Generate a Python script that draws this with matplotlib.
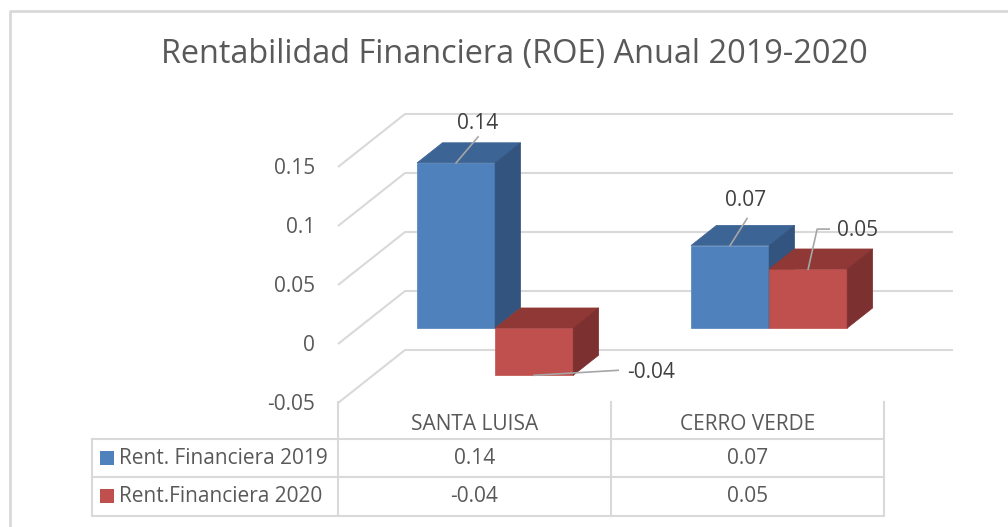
import numpy as np
import matplotlib
matplotlib.use("Agg")
import matplotlib.pyplot as plt
from matplotlib.patches import Polygon
from matplotlib.lines import Line2D

# Data
categories = ["SANTA LUISA", "CERRO VERDE"]
series_names = ["Rent. Financiera 2019", "Rent.Financiera 2020"]
roe_2019 = [0.14, 0.07]
roe_2020 = [-0.04, 0.05]
yticks = [-0.05, 0, 0.05, 0.1, 0.15]
ytick_labels = ["-0.05", "0", "0.05", "0.1", "0.15"]
title = "Rentabilidad Financiera (ROE) Anual 2019-2020"

# Styling
W, H = 1008, 527
font = "Open Sans"
txt_color = "#595959"
grid_color = "#D9D9D9"
face_colors = [("#4F81BD", "#3C6494", "#32547E"),   # front, top, side
               ("#C0504D", "#8F3836", "#7C302F")]

# layout in pixels (top-left origin)
x0_px, cat_px = 338, 274        # front plane left edge, width of one category
y0_px, unit_px = 344, 1180      # pixel row of value 0, pixels per value unit
depth_px = (67, 53)             # oblique offset of back wall
bar_w = 0.285                   # in category units
d_front, d_back = 0.30, 0.68    # bar depth (fraction of floor depth)

fig = plt.figure(figsize=(W / 100, H / 100), dpi=100)
ax = fig.add_axes([0, 0, 1, 1])
ax.set_xlim(-x0_px / cat_px, (W - x0_px) / cat_px)
ax.set_ylim((y0_px - H) / unit_px, y0_px / unit_px)
ax.axis("off")

DX = depth_px[0] / cat_px
DY = depth_px[1] / unit_px
ncat = len(categories)

# walls: front-left diagonals and back gridlines
for v, lab in zip(yticks, ytick_labels):
    ax.plot([0, DX, ncat + DX], [v, v + DY, v + DY], color=grid_color, lw=1.5,
            solid_capstyle="butt", zorder=1)
    ax.text(-23 / cat_px, v - 1.5 / unit_px, lab,
            ha="right", va="center", fontsize=15, color=txt_color, family=font)

# bars
series = [roe_2019, roe_2020]
anchors = []
for i in range(ncat):
    for s, vals in enumerate(series):
        v = vals[i]
        lo, hi = min(v, 0), max(v, 0)
        xl = i + 0.5 - bar_w + s * bar_w + d_front * DX
        yb = d_front * DY
        dd = d_back - d_front
        front, top, side = face_colors[s]
        ax.add_patch(Polygon([(xl, lo + yb), (xl + bar_w, lo + yb), (xl + bar_w, hi + yb), (xl, hi + yb)],
                             closed=True, fc=front, ec=front, lw=0.5, zorder=3))
        ax.add_patch(Polygon([(xl, hi + yb), (xl + bar_w, hi + yb),
                              (xl + bar_w + dd * DX, hi + yb + dd * DY), (xl + dd * DX, hi + yb + dd * DY)],
                             closed=True, fc=top, ec=top, lw=0.5, zorder=3))
        ax.add_patch(Polygon([(xl + bar_w, lo + yb), (xl + bar_w + dd * DX, lo + yb + dd * DY),
                              (xl + bar_w + dd * DX, hi + yb + dd * DY), (xl + bar_w, hi + yb)],
                             closed=True, fc=side, ec=side, lw=0.5, zorder=3))
        anchors.append((xl + bar_w / 2, v + yb, v))

# data labels with leader lines (offsets in pixels, y downwards)
leaders = [
    [(22, -26)],
    [(84, -5)],
    [(17, -27)],
    [(9, -40), (21, -40)],
]
label_pos = [(22, -39, "center"), (93, -3, "left"), (16, -45, "center"), (29, -39, "left")]
order = [(0, 0), (0, 1), (1, 0), (1, 1)]
for k, (i, s) in enumerate(order):
    xa, ya, v = anchors[i * 2 + s]
    px, py = ax.transData.transform((xa, ya))
    pts = [(px, py)] + [(px + dx, py - dy) for dx, dy in leaders[k]]
    fig.add_artist(Line2D([p[0] for p in pts], [p[1] for p in pts], transform=None,
                          color="#A6A6A6", lw=1.2, zorder=5))
    lx, ly, ha = label_pos[k]
    fig.text((px + lx) / W, (py - ly) / H, f"{v:g}", ha=ha, va="center",
             fontsize=15, color="#404040", family=font, zorder=6)

# data table
def fx(x):
    return x / W

def fy(y):
    return 1 - y / H

col_x = [92, 338, 611, 884]
row_y = [402, 439, 477, 516]
tl = dict(color=grid_color, lw=1.5, transform=fig.transFigure, zorder=2)
for x in col_x[1:]:
    fig.add_artist(Line2D([fx(x), fx(x)], [fy(row_y[0]), fy(row_y[-1])], **tl))
fig.add_artist(Line2D([fx(col_x[0])] * 2, [fy(row_y[1]), fy(row_y[-1])], **tl))
for y in row_y[1:]:
    fig.add_artist(Line2D([fx(col_x[0]), fx(col_x[-1])], [fy(y), fy(y)], **tl))

row_text_y = [458, 496]
for j, cat in enumerate(categories):
    cx = (col_x[j + 1] + col_x[j + 2]) / 2
    fig.text(fx(cx), fy(425), cat, ha="center", va="center", fontsize=15,
             color=txt_color, family=font)
    for r, vals in enumerate(series):
        fig.text(fx(cx), fy(row_text_y[r]), f"{vals[j]:g}",
                 ha="center", va="center", fontsize=15, color=txt_color, family=font)

for r, name in enumerate(series_names):
    yc = row_text_y[r]
    fig.patches.append(plt.Rectangle((fx(100), fy(yc + 7)), 14 / W, 14 / H,
                                     transform=fig.transFigure, fc=face_colors[r][0], ec="none"))
    fig.text(fx(119), fy(yc), name, ha="left", va="center", fontsize=15,
             color=txt_color, family=font)

# title and outer border
fig.text(fx(514), fy(54), title, ha="center", va="center", fontsize=23.4,
         color=txt_color, family=font)
fig.add_artist(Line2D([fx(10), fx(10), 1], [0, fy(11), fy(11)], color=grid_color, lw=2,
                      transform=fig.transFigure))

fig.savefig("out.png", dpi=100)
